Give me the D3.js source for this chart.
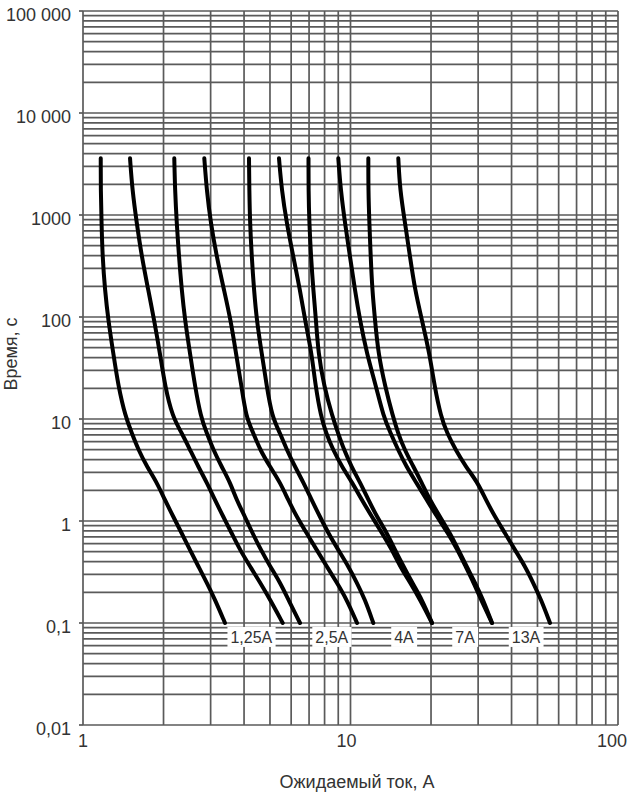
<!DOCTYPE html>
<html>
<head>
<meta charset="utf-8">
<script src="https://cdn.jsdelivr.net/npm/d3@7/dist/d3.min.js"></script>
<style>
  html, body { margin: 0; padding: 0; background: #fff; }
  svg { display: block; }
  text { font-family: "Liberation Sans", Arial, sans-serif; fill: #333; }
</style>
</head>
<body>
<svg id="chart" width="631" height="795"></svg>
<script>
// ---- Data ----
const timeValues = [3600, 1760, 835, 390, 184, 93, 44, 21, 10.5, 7.3, 5, 3.4, 2.4, 1.6, 1.1, 0.76, 0.52, 0.36, 0.25, 0.17, 0.1];

const curve1  = [1.165, 1.165, 1.173, 1.183, 1.208, 1.243, 1.298, 1.355, 1.442, 1.521, 1.610, 1.735, 1.886, 2.026, 2.176, 2.339, 2.512, 2.698, 2.900, 3.115, 3.395];
const curve2  = [1.499, 1.529, 1.588, 1.658, 1.754, 1.845, 1.940, 2.026, 2.161, 2.339, 2.512, 2.698, 2.900, 3.115, 3.346, 3.596, 3.863, 4.211, 4.588, 5.002, 5.579];
const curve3  = [2.194, 2.208, 2.240, 2.285, 2.339, 2.406, 2.512, 2.622, 2.756, 2.900, 3.069, 3.299, 3.544, 3.755, 4.033, 4.301, 4.628, 5.002, 5.451, 5.854, 6.475];
const curve4  = [2.841, 2.900, 3.002, 3.161, 3.366, 3.566, 3.732, 3.913, 4.068, 4.331, 4.588, 5.002, 5.451, 5.854, 6.294, 6.860, 7.476, 8.148, 8.880, 9.678, 10.58];
const curve5  = [4.174, 4.185, 4.211, 4.273, 4.358, 4.461, 4.657, 4.862, 5.089, 5.451, 5.774, 6.203, 6.662, 7.160, 7.691, 8.261, 9.003, 9.813, 10.55, 11.33, 12.17];
const curve6  = [5.404, 5.531, 5.774, 6.112, 6.475, 6.761, 7.160, 7.399, 7.758, 8.098, 8.600, 9.295, 10.13, 11.04, 12.03, 13.12, 14.30, 15.31, 16.69, 18.19, 20.17];
const curve7  = [6.966, 6.966, 7.014, 7.117, 7.260, 7.431, 7.580, 7.960, 8.563, 8.980, 9.456, 10.09, 10.85, 11.68, 12.56, 13.69, 14.67, 15.78, 16.98, 18.50, 20.17];
const curve8  = [9.003, 9.191, 9.536, 9.957, 10.39, 10.85, 11.50, 12.45, 13.29, 14.11, 15.05, 16.19, 17.58, 19.32, 21.06, 23.15, 25.12, 26.91, 28.83, 30.74, 33.81];
const curve9  = [11.66, 11.66, 11.76, 11.90, 12.06, 12.35, 12.70, 13.46, 14.42, 15.05, 15.92, 17.20, 18.42, 19.83, 21.61, 23.55, 25.33, 27.14, 29.20, 31.28, 33.81];
const curve10 = [15.09, 15.31, 15.99, 16.69, 17.42, 18.50, 19.74, 20.61, 21.79, 22.95, 24.69, 27.00, 29.84, 32.10, 34.69, 37.82, 41.20, 44.92, 48.11, 51.55, 55.69];

const fuseLabels = ["1,25A", "2,5A", "4A", "7A", "13A"];
const labelCurrents = [4.26, 8.51, 15.85, 26.8, 45.3];
const labelTime = 0.073;

const xTickValues = [1, 10, 100];
const xTickLabels = ["1", "10", "100"];
const yTickValues = [100000, 10000, 1000, 100, 10, 1, 0.1, 0.01];
const yTickLabels = ["100 000", "10 000", "1000", "100", "10", "1", "0,1", "0,01"];

const xTitle = "Ожидаемый ток, А";
const yTitle = "Время, с";

// ---- Layout ----
const W = 631, H = 795;
const margin = { top: 11, right: 13, bottom: 70, left: 83 };
const svg = d3.select("#chart");

const x = d3.scaleLog().domain([1, 100]).range([margin.left, W - margin.right]);
const y = d3.scaleLog().domain([0.01, 100000]).range([H - margin.bottom, margin.top]);

const gridColor = "#5a5a5a";
const gridWidth = 1.7;

// Grid
const grid = svg.append("g");
grid.selectAll("line.v").data(x.ticks()).join("line")
  .attr("class", "v")
  .attr("x1", d => x(d)).attr("x2", d => x(d))
  .attr("y1", y(100000)).attr("y2", y(0.01))
  .attr("stroke", gridColor).attr("stroke-width", gridWidth);
grid.selectAll("line.h").data(y.ticks()).join("line")
  .attr("class", "h")
  .attr("x1", x(1)).attr("x2", x(100))
  .attr("y1", d => y(d)).attr("y2", d => y(d))
  .attr("stroke", gridColor).attr("stroke-width", gridWidth);

// Y ticks (small marks left of the axis)
grid.selectAll("line.yt").data(yTickValues).join("line")
  .attr("class", "yt")
  .attr("x1", x(1) - 4).attr("x2", x(1))
  .attr("y1", d => y(d)).attr("y2", d => y(d))
  .attr("stroke", gridColor).attr("stroke-width", gridWidth);

// Y tick labels
svg.append("g").selectAll("text").data(yTickValues).join("text")
  .attr("x", x(1) - 12)
  .attr("y", d => y(d) + 9.5)
  .attr("text-anchor", "end")
  .attr("font-size", 18)
  .text((d, i) => yTickLabels[i]);

// X tick labels
const xLabelShift = [0, -4, -6];
svg.append("g").selectAll("text").data(xTickValues).join("text")
  .attr("x", (d, i) => x(d) + xLabelShift[i])
  .attr("y", y(0.01) + 22)
  .attr("text-anchor", "middle")
  .attr("font-size", 18)
  .text((d, i) => xTickLabels[i]);

// Titles
svg.append("text")
  .attr("x", 357).attr("y", 788)
  .attr("text-anchor", "middle")
  .attr("font-size", 18)
  .text(xTitle);
svg.append("text")
  .attr("transform", "translate(17,354) rotate(-90)")
  .attr("text-anchor", "middle")
  .attr("font-size", 18)
  .text(yTitle);

// Labels with white boxes
const lab = svg.append("g");
fuseLabels.forEach((t, i) => {
  const g = lab.append("g");
  const txt = g.append("text")
    .attr("x", x(labelCurrents[i]))
    .attr("y", y(labelTime) + 6)
    .attr("text-anchor", "middle")
    .attr("font-size", 16)
    .text(t);
  const bb = txt.node().getBBox();
  g.insert("rect", "text")
    .attr("x", bb.x - 3).attr("y", y(labelTime) - 10)
    .attr("width", bb.width + 6).attr("height", 20)
    .attr("fill", "#fff");
});

// Curves
const allCurves = [curve1, curve2, curve3, curve4, curve5, curve6, curve7, curve8, curve9, curve10];
const line = d3.line()
  .x(d => x(d[0]))
  .y(d => y(d[1]))
  .curve(d3.curveBasis);

svg.append("g").selectAll("path").data(allCurves).join("path")
  .attr("d", c => line(c.map((v, i) => [v, timeValues[i]])))
  .attr("fill", "none")
  .attr("stroke", "#000")
  .attr("stroke-width", 4)
  .attr("stroke-linecap", "round")
  .attr("stroke-linejoin", "round");
</script>
</body>
</html>
